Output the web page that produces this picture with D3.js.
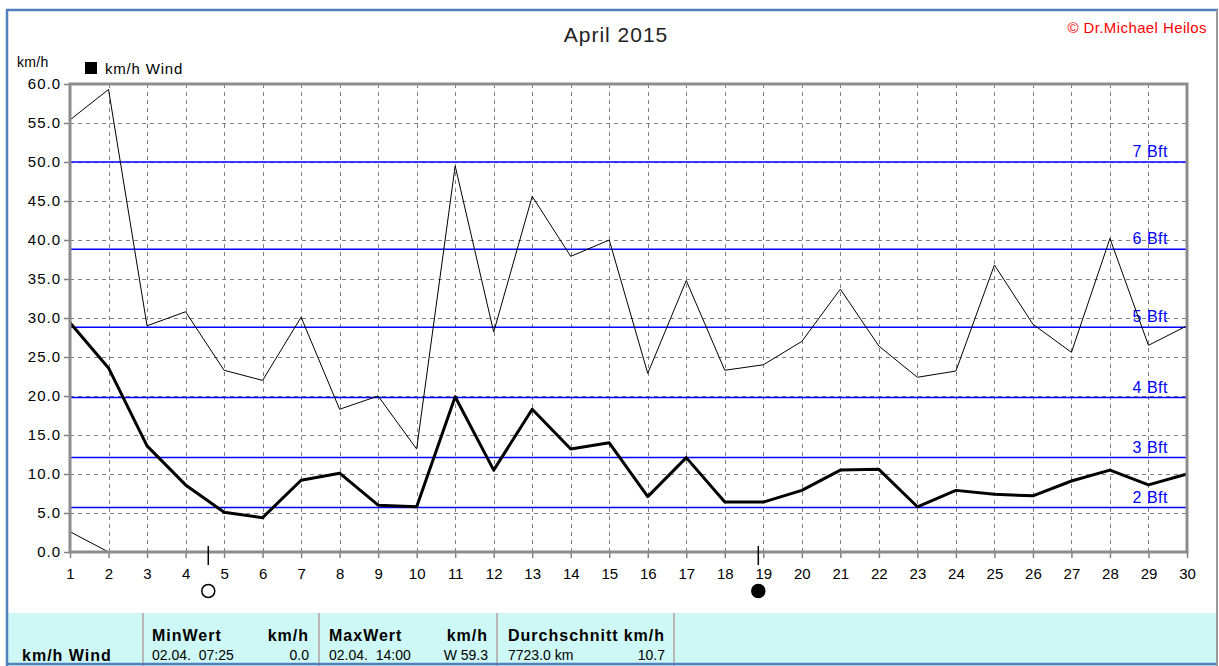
<!DOCTYPE html>
<html>
<head>
<meta charset="utf-8">
<script src="https://cdn.jsdelivr.net/npm/d3@7"></script>
<style>
  html, body { margin: 0; padding: 0; background: #fff; }
  svg { display: block; font-family: "Liberation Sans", Arial, sans-serif; }
</style>
</head>
<body>
<svg id="chart" width="1219" height="666"></svg>
<script>
// ---- data ----
const days = [1,2,3,4,5,6,7,8,9,10,11,12,13,14,15,16,17,18,19,20,21,22,23,24,25,26,27,28,29,30];
const maxWind = [55.4,59.3,29.0,30.8,23.3,22.0,30.1,18.3,20.0,13.2,49.5,28.2,45.6,37.9,40.0,22.9,34.8,23.3,24.0,27.0,33.7,26.4,22.4,23.2,36.8,29.2,25.6,40.2,26.5,29.0];
const avgWind = [29.4,23.6,13.6,8.6,5.1,4.4,9.2,10.1,6.0,5.8,19.9,10.5,18.3,13.2,14.0,7.1,12.1,6.4,6.4,7.9,10.5,10.6,5.8,7.9,7.4,7.2,9.1,10.5,8.6,10.0];
const minWind = [2.6,0.0,0.0,0.0,0.0,0.0,0.0,0.0,0.0,0.0,0.0,0.0,0.0,0.0,0.0,0.0,0.0,0.0,0.0,0.0,0.0,0.0,0.0,0.0,0.0,0.0,0.0,0.0,0.0,0.0];
const yTicks = [0,5,10,15,20,25,30,35,40,45,50,55,60];
const bftLabels = ["2 Bft","3 Bft","4 Bft","5 Bft","6 Bft","7 Bft"];
const bftValues = [5.7,12.1,19.8,28.8,38.8,50.0];
const moonPhases = ["full","new"];
const moonDays = [4.59,18.87];
const titleText = "April 2015";
const copyrightText = "\u00A9 Dr.Michael Heilos";
const unitLabel = "km/h";
const legendLabel = "km/h Wind";
const statHeaders = [["MinWert","km/h"],["MaxWert","km/h"],["Durchschnitt","km/h"]];
const statRows = [["02.04.  07:25","0.0"],["02.04.  14:00","W 59.3"],["7723.0 km","10.7"]];

// ---- layout ----
const svg = d3.select("#chart");
const L = 70, R = 1187, T = 84, B = 552;
const x = d3.scaleLinear().domain([1,30]).range([L,R]);
const y = d3.scaleLinear().domain([0,60]).range([B,T]);

svg.append("rect").attr("x",0).attr("y",0).attr("width",1219).attr("height",666).attr("fill","#fff");

// table background
const tableTop = 613;
svg.append("rect").attr("x",8).attr("y",tableTop).attr("width",1208).attr("height",666-tableTop).attr("fill","#cdf8f5");
[143,319,497,674].forEach(cx => {
  svg.append("line").attr("x1",cx).attr("x2",cx).attr("y1",tableTop).attr("y2",666)
    .attr("stroke","#b8b8b8").attr("stroke-width",2);
});

// grid
const grid = svg.append("g").attr("stroke","#808080").attr("stroke-width",1).attr("stroke-dasharray","4,4");
yTicks.slice(1,-1).forEach(v => {
  grid.append("line").attr("x1",L).attr("x2",R).attr("y1",Math.round(y(v))+0.5).attr("y2",Math.round(y(v))+0.5);
});
days.slice(1,-1).forEach(d => {
  grid.append("line").attr("x1",Math.round(x(d))+0.5).attr("x2",Math.round(x(d))+0.5).attr("y1",T).attr("y2",B);
});

// Beaufort lines
const bft = svg.append("g");
bftValues.forEach((v,i) => {
  bft.append("line").attr("x1",L).attr("x2",R).attr("y1",y(v)).attr("y2",y(v))
    .attr("stroke","#0000ff").attr("stroke-width",1.5);
  bft.append("text").attr("x",1168).attr("y",y(v)-5).attr("text-anchor","end")
    .attr("font-size",16).attr("letter-spacing",0.5).attr("fill","#0000ff").text(bftLabels[i]);
});

// series
const line = d3.line().x((d,i) => x(days[i])).y(d => y(d));
svg.append("path").datum(minWind).attr("d",line).attr("fill","none").attr("stroke","#000").attr("stroke-width",1);
svg.append("path").datum(maxWind).attr("d",line).attr("fill","none").attr("stroke","#000").attr("stroke-width",1);
svg.append("path").datum(avgWind).attr("d",line).attr("fill","none").attr("stroke","#000").attr("stroke-width",3).attr("stroke-linejoin","round");

// axes
const xAxis = d3.axisBottom(x).tickValues(days).tickSize(6).tickPadding(10).tickFormat(d3.format("d"));
const gx = svg.append("g").attr("transform",`translate(0,${B})`).call(xAxis);
const yAxis = d3.axisLeft(y).tickValues(yTicks).tickSize(6).tickPadding(3).tickFormat(d3.format(".1f"));
const gy = svg.append("g").attr("transform",`translate(${L},0)`).call(yAxis);
[gx,gy].forEach(g => {
  g.select(".domain").remove();
  g.selectAll(".tick line").attr("stroke","#808080").attr("stroke-width",1.5);
  g.selectAll(".tick text").attr("fill","#000").attr("font-family","'Liberation Sans', Arial, sans-serif");
});
gx.selectAll(".tick text").attr("font-size",15);
gy.selectAll(".tick text").attr("font-size",15).attr("letter-spacing",1);

// plot frame
svg.append("rect").attr("x",L).attr("y",T).attr("width",R-L).attr("height",B-T)
  .attr("fill","none").attr("stroke","#8c8c8c").attr("stroke-width",3);

// moon phases
moonDays.forEach((d,i) => {
  const mx = x(d);
  svg.append("line").attr("x1",mx).attr("x2",mx).attr("y1",B-6).attr("y2",B+13).attr("stroke","#000").attr("stroke-width",1.5);
  svg.append("circle").attr("cx",mx).attr("cy",591).attr("r",6.5)
    .attr("fill", moonPhases[i] === "new" ? "#000" : "#fff")
    .attr("stroke","#000").attr("stroke-width",1.5);
});

// titles
svg.append("text").attr("x",616).attr("y",42).attr("text-anchor","middle").attr("font-size",21).attr("letter-spacing",1).attr("fill","#222").text(titleText);
svg.append("text").attr("x",1207).attr("y",33).attr("text-anchor","end").attr("font-size",15).attr("letter-spacing",0.4).attr("fill","#ff0000").text(copyrightText);
svg.append("text").attr("x",17).attr("y",67).attr("font-size",14).attr("letter-spacing",0.3).attr("fill","#000").text(unitLabel);
svg.append("rect").attr("x",85).attr("y",62).attr("width",12).attr("height",12).attr("fill","#000");
svg.append("text").attr("x",105).attr("y",74).attr("font-size",15).attr("letter-spacing",0.8).attr("fill","#000").text(legendLabel);

// statistics table
svg.append("text").attr("x",22).attr("y",661).attr("font-size",16).attr("letter-spacing",1).attr("font-weight","bold").text(legendLabel);
const colStart = [152,329,508];
const colEnd = [309,488,665];
statHeaders.forEach((h,i) => {
  svg.append("text").attr("x",colStart[i]).attr("y",641).attr("font-size",16).attr("letter-spacing",1).attr("font-weight","bold").text(h[0]);
  svg.append("text").attr("x",colEnd[i]).attr("y",641).attr("text-anchor","end").attr("font-size",16).attr("letter-spacing",1).attr("font-weight","bold").text(h[1]);
  svg.append("text").attr("x",colStart[i]).attr("y",660).attr("font-size",14).style("white-space","pre").text(statRows[i][0]);
  svg.append("text").attr("x",colEnd[i]).attr("y",660).attr("text-anchor","end").attr("font-size",14).text(statRows[i][1]);
});

// outer border
svg.append("line").attr("x1",7).attr("x2",7).attr("y1",10).attr("y2",666).attr("stroke","#4f81bd").attr("stroke-width",2.5);
svg.append("line").attr("x1",6).attr("x2",1218).attr("y1",10).attr("y2",10).attr("stroke","#4f81bd").attr("stroke-width",2.5);
svg.append("line").attr("x1",6).attr("x2",1218).attr("y1",664).attr("y2",664).attr("stroke","#4f81bd").attr("stroke-width",2.5);
svg.append("line").attr("x1",1217).attr("x2",1217).attr("y1",10).attr("y2",666).attr("stroke","#9a9a9a").attr("stroke-width",2);
</script>
</body>
</html>
